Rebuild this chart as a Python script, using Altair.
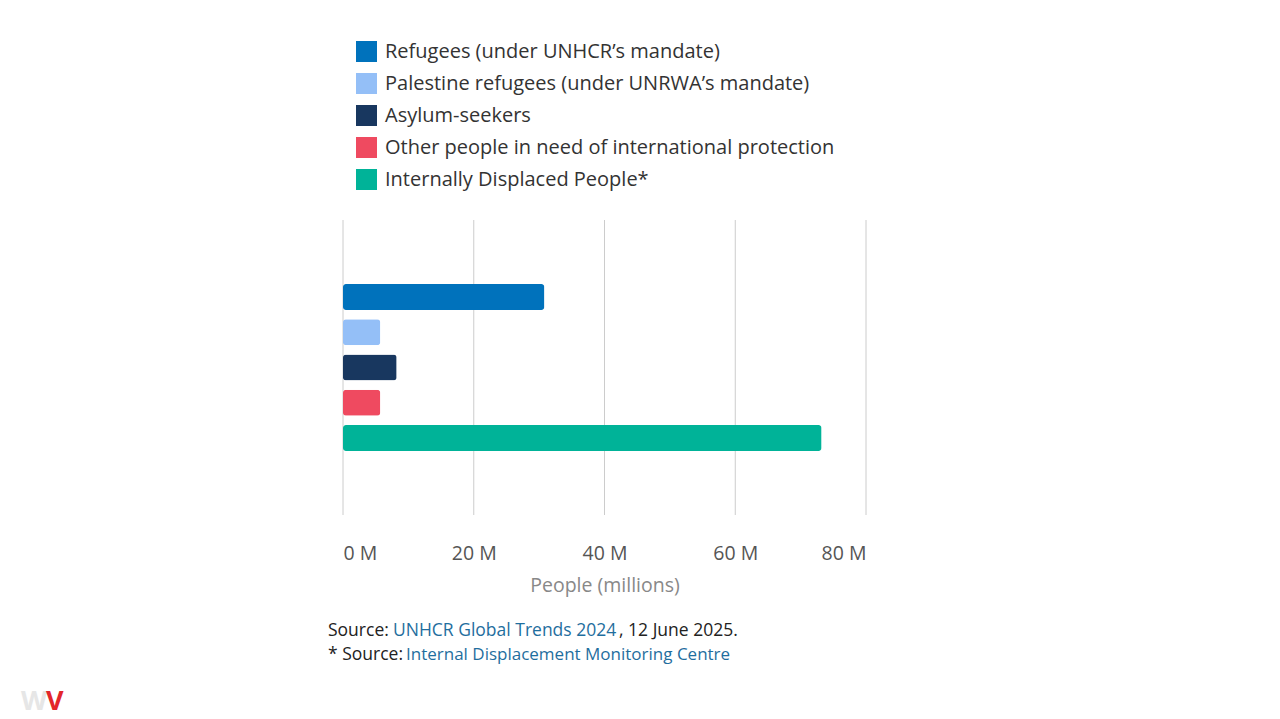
import altair as alt
import pandas as pd

categories = [
    "Refugees (under UNHCR’s mandate)",
    "Palestine refugees (under UNRWA’s mandate)",
    "Asylum-seekers",
    "Other people in need of international protection",
    "Internally Displaced People*",
]
values_m = [30.8, 5.7, 8.2, 5.7, 73.2]
colors = ["#0072BC", "#94BFF7", "#18375F", "#EF4A60", "#00B398"]
x_ticks = [0, 20, 40, 60, 80]

df = pd.DataFrame({"category": categories, "value": values_m})
grid_df = pd.DataFrame({"tick": x_ticks})

FONT = "Open Sans"
xscale = alt.Scale(domain=[0, 80], nice=False)
xaxis = alt.Axis(
    values=x_ticks,
    labelExpr="datum.value + ' M'",
    title="People (millions)",
    grid=False,
    domain=False,
    ticks=False,
    labelPadding=29,
    labelFontSize=19.5,
    labelColor="#555555",
    labelFont=FONT,
    titleFont=FONT,
    titleFontSize=19.5,
    titleFontWeight="normal",
    titleColor="#888888",
    titlePadding=14,
)

grid = alt.Chart(grid_df).mark_rule(color="#cccccc", strokeWidth=1).encode(
    x=alt.X("tick:Q", scale=xscale, axis=xaxis, title="People (millions)"),
    y=alt.value(0),
    y2=alt.value(295),
)

bars = alt.Chart(df).mark_bar(cornerRadius=3).encode(
    x=alt.X("value:Q", scale=xscale, axis=xaxis, title="People (millions)"),
    y=alt.Y(
        "category:N",
        sort=categories,
        scale=alt.Scale(range=[64, 231], paddingInner=0.263, paddingOuter=0),
        axis=None,
    ),
    color=alt.Color(
        "category:N",
        sort=categories,
        scale=alt.Scale(domain=categories, range=colors),
        legend=alt.Legend(
            title=None,
            orient="none",
            legendX=13,
            legendY=-179,
            symbolType="square",
            symbolSize=441,
            symbolStrokeWidth=0,
            symbolOpacity=1,
            labelFontSize=20,
            labelFont=FONT,
            labelColor="#333333",
            labelOffset=8,
            rowPadding=11,
            labelLimit=700,
            padding=0,
        ),
    ),
)

def txt(text, x, y, color, size=17.5, weight="normal"):
    d = pd.DataFrame({"t": [text]})
    return alt.Chart(d).mark_text(
        align="left", baseline="alphabetic", font=FONT, fontSize=size,
        color=color, fontWeight=weight,
    ).encode(text="t:N", x=alt.value(x), y=alt.value(y))

link = "#1F6E9E"
dark = "#222222"
notes = [
    txt("Source:", -15, 416, dark),
    txt("UNHCR Global Trends 2024", 50, 416, link),
    txt(", 12 June 2025.", 276, 416, dark),
    txt("* Source:", -15, 440, dark),
    txt("Internal Displacement Monitoring Centre", 63, 440, link, size=17),
    txt("W", -322, 490, "#e6e6e6", size=27, weight="bold"),
    txt("V", -297, 490, "#e3262b", size=27, weight="bold"),
]

chart = alt.layer(grid, bars, *notes).properties(
    width=523,
    height=295,
    autosize=alt.AutoSizeParams(type="none"),
    padding={"left": 335, "top": 212, "right": 400, "bottom": 202},
).configure(font=FONT).configure_view(strokeWidth=0)

chart.save("out.html", embed_options={"renderer": "svg", "actions": False})
